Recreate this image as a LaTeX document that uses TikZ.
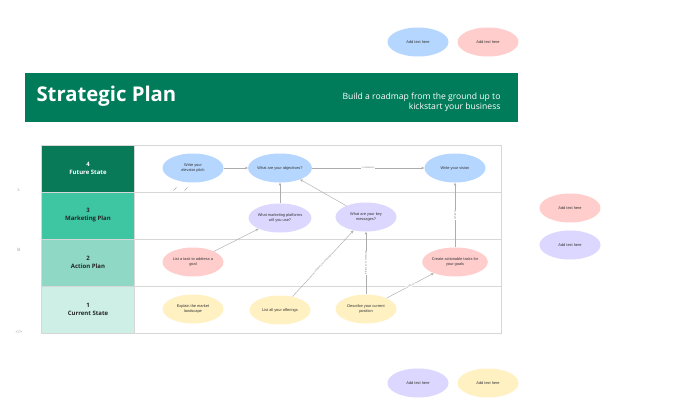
\documentclass[tikz,border=0pt]{standalone}
\usepackage{fontspec}
\setmainfont{Open Sans}
\newfontfamily\bubblefont{Liberation Sans}
\usetikzlibrary{shapes.geometric,arrows.meta}
\definecolor{cblue}{RGB}{181,214,255}
\definecolor{cpink}{RGB}{255,206,204}
\definecolor{clav}{RGB}{219,215,255}
\definecolor{cyel}{RGB}{255,241,194}
\definecolor{banner}{RGB}{0,124,90}
\definecolor{rowa}{RGB}{8,122,88}
\definecolor{rowb}{RGB}{62,198,163}
\definecolor{rowc}{RGB}{143,216,198}
\definecolor{rowd}{RGB}{206,239,230}
\definecolor{grid}{RGB}{215,215,215}
\begin{document}
\begin{tikzpicture}[x=1pt,y=-1pt,
  bubble/.style={ellipse, minimum width=61pt, minimum height=29pt, inner sep=0pt,
    align=center, font=\bubblefont\fontsize{3.9}{5}\selectfont, text=black!80},
  conn/.style={draw=gray!65, line width=0.45pt, -{Stealth[length=3pt,width=2.6pt]}},
  lbl/.style={fill=white, font=\bubblefont\fontsize{2.4}{3}\selectfont, sloped, inner sep=0.6pt, text=gray},
  rowlabel/.style={align=center, font=\fontsize{6}{8}\selectfont\bfseries},
  iconmark/.style={text=gray!70, font=\bubblefont\fontsize{4.5}{5}\selectfont}]
\path[use as bounding box, fill=white] (0,0) rectangle (680,409);

% top sample bubbles
\node[bubble, fill=cblue] (t1) at (418,42) {Add text here};
\node[bubble, fill=cpink] (t2) at (488,42) {Add text here};

% banner
\fill[banner] (25,73) rectangle (518,122);
\node[anchor=west, text=white, font=\fontsize{20.3}{24}\selectfont\bfseries] (title) at (33,96) {Strategic Plan};
\node[anchor=east, align=right, text=white, font=\fontsize{8.6}{10.2}\selectfont] (sub) at (504,102) {Build a roadmap from the ground up to\\kickstart your business};

% table
\fill[rowa] (41,145) rectangle (134,192);
\fill[rowb] (41,192) rectangle (134,239);
\fill[rowc] (41,239) rectangle (134,286);
\fill[rowd] (41,286) rectangle (134,333);
\draw[grid, line width=0.5pt] (41,145) rectangle (501,333);
\foreach \yy in {192,239,286} \draw[grid, line width=0.5pt] (41,\yy) -- (501,\yy);
\draw[grid, line width=0.5pt] (134,145) -- (134,333);

\node[rowlabel, text=white] (r4) at (88,168) {4\\Future State};
\node[rowlabel, text=black!85] (r3) at (88,215) {3\\Marketing Plan};
\node[rowlabel, text=black!85] (r2) at (88,262) {2\\Action Plan};
\node[rowlabel, text=black!85] (r1) at (88,309) {1\\Current State};

% bubbles
\node[bubble, fill=cblue] (pitch) at (193,168) {Write your\\elevator pitch};
\node[bubble, fill=cblue] (obj) at (280,168) {What are your objectives?};
\node[bubble, fill=cblue] (vision) at (455,168) {Write your vision};
\node[bubble, fill=clav] (platf) at (280,218) {What marketing platforms\\will you use?};
\node[bubble, fill=clav] (msg) at (366,217) {What are your key\\messages?};
\node[bubble, fill=cpink] (task) at (193,262) {List a task to address a\\goal};
\node[bubble, fill=cpink] (act) at (455,262) {Create actionable tasks for\\your goals};
\node[bubble, fill=cyel] (market) at (193,309) {Explain the market\\landscape};
\node[bubble, fill=cyel] (offer) at (280,310) {List all your offerings};
\node[bubble, fill=cyel] (pos) at (366,309) {Describe your current\\position};

% connectors
\draw[conn] (pitch) -- (obj);
\draw[conn] (obj) -- node[lbl, sloped=false] {is related to} (vision);
\draw[conn] (platf) -- (obj);
\draw[conn] (msg) -- (obj);
\draw[conn] (task) -- (platf);
\draw[conn] (offer) -- node[lbl] {shapes your message} (msg);
\draw[conn] (pos) -- node[lbl] {informs your message} (msg);
\draw[conn] (pos) -- node[lbl] {leads to} (act);
\draw[conn] (act) -- node[lbl] {achieves} (vision);

% small icons
\draw[gray!70, line width=0.6pt] (173.5,190.5) -- (176.5,187.5);
\draw[gray!70, line width=0.6pt] (184.5,190.5) -- (187.5,187.5);
\node[iconmark] (ic1) at (19,190) {L};
\node[iconmark] (ic2) at (19,250) {B};
\node[iconmark] (ic3) at (19,332) {</>};

% right sample bubbles
\node[bubble, fill=cpink] (s1) at (570,208) {Add text here};
\node[bubble, fill=clav] (s2) at (570,245) {Add text here};

% bottom sample bubbles
\node[bubble, fill=clav] (b1) at (418,383) {Add text here};
\node[bubble, fill=cyel] (b2) at (488,383) {Add text here};
\end{tikzpicture}
\end{document}
